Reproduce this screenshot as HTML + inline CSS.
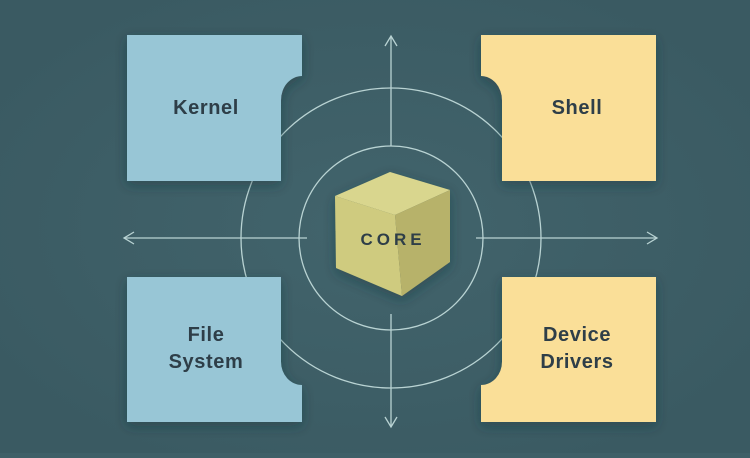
<!DOCTYPE html>
<html><head><style>
body{margin:0;width:750px;height:453px;background:#3e5f67;overflow:hidden;font-family:"Liberation Sans",sans-serif;}
</style></head><body>
<svg width="750" height="453" viewBox="0 0 750 453" xmlns="http://www.w3.org/2000/svg">
<defs>
<radialGradient id="bg" cx="50%" cy="50%" r="60%"><stop offset="0" stop-color="#42646c"/><stop offset="1" stop-color="#3a5a62"/></radialGradient>
<filter id="sh" x="-20%" y="-20%" width="140%" height="140%"><feDropShadow dx="0" dy="4" stdDeviation="6" flood-color="#1e3238" flood-opacity="0.45"/></filter>
</defs>
<rect width="750" height="453" fill="url(#bg)"/>
<g stroke="#b9d3d3" stroke-width="1.3" fill="none">
<circle cx="391" cy="238" r="92"/>
<circle cx="391" cy="238" r="150"/>
<line x1="124" y1="238" x2="307" y2="238"/>
<line x1="476" y1="238" x2="657" y2="238"/>
<line x1="391" y1="36" x2="391" y2="146"/>
<line x1="391" y1="314" x2="391" y2="427"/>
<polyline points="134,232 124,238 134,244"/>
<polyline points="647,232 657,238 647,244"/>
<polyline points="385,46 391,36 397,46"/>
<polyline points="385,417 391,427 397,417"/>
</g>
<g filter="url(#sh)">
<path d="M127,35 H302 V76 A21,24 0 0 0 281,100 V181 H127Z" fill="#98c6d6"/>
<path d="M656,35 H481 V76 A21,24 0 0 1 502,100 V181 H656Z" fill="#fadf98"/>
<path d="M127,422 H302 V385 A21,23 0 0 1 281,362 V277 H127Z" fill="#98c6d6"/>
<path d="M656,422 H481 V385 A21,23 0 0 0 502,362 V277 H656Z" fill="#fadf98"/>
</g>
<g filter="url(#sh)">
<polygon points="335,196 390,172 450,190 395,215" fill="#d9d68e"/>
<polygon points="335,196 395,215 402,296 336,268" fill="#cfcb7f"/>
<polygon points="395,215 450,190 450,262 402,296" fill="#b7b26a"/>
</g>
<g fill="#2e3e48" font-weight="bold" font-size="20" text-anchor="middle" letter-spacing="0.6" font-family="Liberation Sans, sans-serif">
<text x="206" y="114">Kernel</text>
<text x="577" y="114">Shell</text>
<text x="206" y="341">File</text>
<text x="206" y="368">System</text>
<text x="577" y="341">Device</text>
<text x="577" y="368">Drivers</text>
<text x="393" y="245" font-size="17" letter-spacing="4">CORE</text>
</g>
</svg>
</body></html>
